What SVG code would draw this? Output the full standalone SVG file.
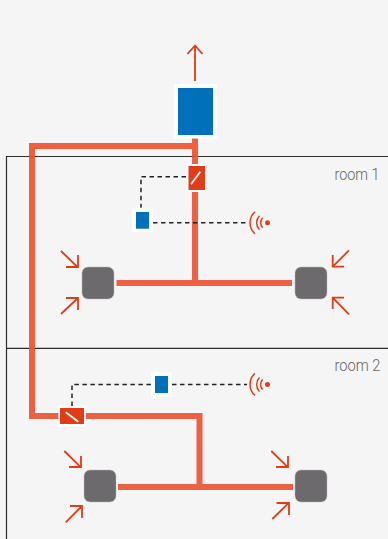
<svg xmlns="http://www.w3.org/2000/svg" width="388" height="539" viewBox="0 0 388 539">
<style>
.room{fill:none;stroke:#2e2e2e;stroke-width:1.2}
.pipe{fill:none;stroke:#ee5030;stroke-width:6}
.arrow{fill:none;stroke:#e03c18;stroke-width:1.8}
.dash{fill:none;stroke:#222;stroke-width:1.5;stroke-dasharray:4.5 3.5}
.wave{fill:none;stroke:#e03c18;stroke-width:1.5}
.dot{fill:#e03c18}
.halo{fill:#fff}
.blue{fill:#0070ba}
.red{fill:#e03c18}
.slash{stroke:#fff;stroke-width:1.8;fill:none}
.unit{fill:#6c6a6c;stroke:#bbb;stroke-width:.5}
.label{font-family:Roboto,"Liberation Sans",Arial,sans-serif;font-weight:300;font-size:16.5px;fill:#666;text-anchor:end}
</style>
<rect width="388" height="539" fill="#f5f5f5"/>
<g id="rooms">
<path class="room" d="M388 156.5H6.5V539"/>
<path class="room" d="M6.5 348.3H388"/>
</g>
<g id="connectors">
<g opacity=".9">
<path class="pipe" d="M195 138V283M195 146H32V416H59M86 416H199.5V487"/>
<path class="pipe" d="M116.500 283H292"/>
<path class="pipe" d="M118 487H293"/>
</g>
<path class="dash" d="M186 176.700H141V208"/>
<path class="dash" d="M153 222.700H248"/>
<path class="dash" d="M72 406V384.400H151"/>
<path class="dash" d="M172 384.400H247"/>
<path class="arrow" d="M195 81V45.500M187.500 54L195 45.500L202.500 54"/>
<path class="arrow" d="M61 251L78 267.500M66 267H78V255"/>
<path class="arrow" d="M61 314L78 298M66 298H78V310"/>
<path class="arrow" d="M349 250.300L332.700 266.700M332.700 255V266.700H344"/>
<path class="arrow" d="M349 314.300L332.700 297.700M344 297.700H332.700V309"/>
<path class="arrow" d="M64.300 451L81 467.300M69 467H81V456"/>
<path class="arrow" d="M65.700 522.300L82 506M70 506H82V518"/>
<path class="arrow" d="M271.300 451L288 467.300M276 467H288V456"/>
<path class="arrow" d="M272.300 519L289 502.700M276.500 503H289V515"/>
</g>
<g id="fan"><rect class="halo" x="174" y="84" width="43" height="54.500"/><rect class="blue" x="178" y="88" width="35" height="47"/></g>
<g id="damper-1"><rect class="halo" x="186.700" y="164" width="19.300" height="28" rx="1"/><rect class="red" x="188.500" y="166" width="16.500" height="24"/><path class="slash" d="M191 184.300L200.300 171.700"/></g>
<g id="controller-1"><rect class="halo" x="132" y="207.700" width="20.700" height="24.300"/><rect class="blue" x="136" y="212" width="13" height="16.700"/></g>
<g id="sensor-1"><path class="wave" d="M255 211.700A14.600 14.600 0 0 0 255 233.700M259.500 215.700A10 10 0 0 0 259.500 229.700M262.700 217.700A7 7 0 0 0 262.700 227.700"/><circle class="dot" cx="267.500" cy="222.700" r="2.500"/></g>
<g id="unit-1a"><rect class="unit" x="82" y="267" width="32" height="32" rx="6"/></g>
<g id="unit-1b"><rect class="unit" x="295" y="267" width="32" height="32" rx="6"/></g>
<g id="damper-2"><rect class="halo" x="58.300" y="406" width="27.700" height="20"/><rect class="red" x="60" y="408" width="24" height="16"/><path class="slash" d="M65.700 412.300L78.300 421.700"/></g>
<g id="controller-2"><rect class="halo" x="151" y="372.300" width="20.700" height="24.700"/><rect class="blue" x="155" y="376" width="13" height="17"/></g>
<g id="sensor-2"><path class="wave" d="M255 373.400A14.600 14.600 0 0 0 255 395.400M259.500 377.400A10 10 0 0 0 259.500 391.400M262.700 379.400A7 7 0 0 0 262.700 389.400"/><circle class="dot" cx="267.500" cy="384.400" r="2.500"/></g>
<g id="unit-2a"><rect class="unit" x="84" y="470" width="32" height="32" rx="6"/></g>
<g id="unit-2b"><rect class="unit" x="295" y="470" width="32" height="32" rx="6"/></g>
<text class="label" x="379.500" y="179.500" textLength="45" lengthAdjust="spacingAndGlyphs">room 1</text>
<text class="label" x="380.500" y="370.500" textLength="46" lengthAdjust="spacingAndGlyphs">room 2</text>
</svg>
